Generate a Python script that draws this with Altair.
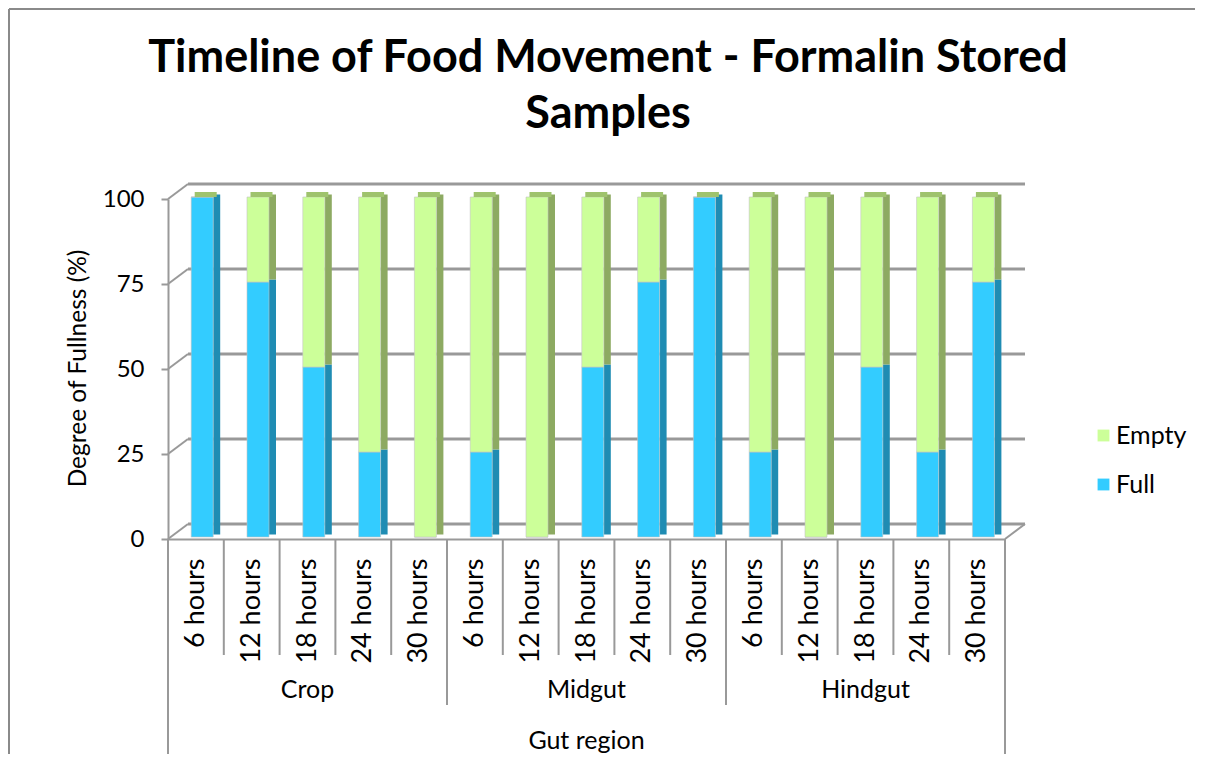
import altair as alt
import pandas as pd

# ---------------- data ----------------
groups = ["Crop", "Midgut", "Hindgut"]
hours = ["6 hours", "12 hours", "18 hours", "24 hours", "30 hours"]
full_vals = [100, 75, 50, 25, 0, 25, 0, 50, 75, 100, 25, 0, 50, 25, 75]
empty_vals = [0, 25, 50, 75, 100, 75, 100, 50, 25, 0, 75, 100, 50, 75, 25]
y_ticks = [0, 25, 50, 75, 100]
series_names = ["Empty", "Full"]
title_lines = ["Timeline of Food Movement - Formalin Stored", "Samples"]
y_title = "Degree of Fullness (%)"
x_title = "Gut region"

# ---------------- styles ----------------
front_colors = ["#CCFF99", "#33CCFF"]
side_colors = ["#8DAA62", "#1F8CB3"]
top_color = "#9FC36D"
grid_color = "#999999"
FONT = "Lato"

W, H = 837, 340
NB = len(groups) * len(hours)
BW = W / NB
DX, DY = 20, -15
FX = 6.3  # front face offset from band centre
FW = 22   # front face width
SW = 7    # side face width

keys = [f"{g}|{h}" for g in groups for h in hours]
rows = []
for i, k in enumerate(keys):
    rows.append(dict(key=k, series="Full", y0=0, y1=full_vals[i]))
    rows.append(dict(key=k, series="Empty", y0=full_vals[i], y1=full_vals[i] + empty_vals[i]))
bars = pd.DataFrame(rows)
tops = pd.DataFrame({"key": keys, "top": [f + e for f, e in zip(full_vals, empty_vals)]})
ticks_df = pd.DataFrame({"v": y_ticks})
zero_df = pd.DataFrame({"v": [0]})
keys_df = pd.DataFrame({"key": keys})
last_df = pd.DataFrame({"key": [keys[-1]]})
first_df = pd.DataFrame({"key": [keys[0]]})
group_first_df = pd.DataFrame({"key": [f"{g}|{hours[0]}" for g in groups[1:]]})
group_mid_df = pd.DataFrame({"key": [f"{g}|{hours[len(hours)//2]}" for g in groups],
                             "label": groups})

xaxis = alt.Axis(
    labelExpr="split(datum.value, '|')[1]", labelAngle=270, labelAlign="right",
    labelBaseline="middle", labelFontSize=27, labelFont=FONT, labelColor="black",
    labelPadding=19, ticks=False, domainColor=grid_color, domainWidth=2,
    grid=False, title=None, labelOverlap=False,
)
yaxis = alt.Axis(
    values=y_ticks, grid=False, domainColor=grid_color, domainWidth=2,
    tickColor=grid_color, tickWidth=2, tickSize=7, labelFontSize=24,
    labelFont=FONT, labelColor="black", labelPadding=17, title=y_title,
    titleFontSize=24.5, titleFont=FONT, titleFontWeight="normal", titleColor="black",
    titleX=-90, titleY=H / 2 - 1, titleAlign="center", titleBaseline="middle",
)
X = alt.X("key:N", scale=alt.Scale(domain=keys, paddingInner=0, paddingOuter=0), axis=xaxis)
YS = alt.Scale(domain=[0, 100], nice=False)


def Yq(field):
    return alt.Y(field, scale=YS, axis=yaxis)


# border of chart area
border_left = alt.Chart(zero_df).mark_rule(color="#8a8a8a", strokeWidth=2).encode(
    x=alt.value(-159), y=alt.value(-190), y2=alt.value(H + 300))
border_top = alt.Chart(zero_df).mark_rule(color="#8a8a8a", strokeWidth=2).encode(
    x=alt.value(-159), x2=alt.value(W + 300), y=alt.value(-190))

# back wall gridlines
back_grid = alt.Chart(ticks_df).mark_rule(color=grid_color, strokeWidth=3, yOffset=DY).encode(
    y=Yq("v:Q"), x=alt.value(DX), x2=alt.value(W + DX))
left_diag = alt.Chart(ticks_df).mark_rule(color=grid_color, strokeWidth=2, y2Offset=DY).encode(
    y=Yq("v:Q"), y2="v:Q", x=alt.value(0), x2=alt.value(DX))
right_diag = alt.Chart(zero_df).mark_rule(color=grid_color, strokeWidth=2, y2Offset=DY).encode(
    y=Yq("v:Q"), y2="v:Q", x=alt.value(W), x2=alt.value(W + DX))

# bars (pseudo-3D)
side = alt.Chart(bars).mark_bar(width=SW, xOffset=FX + FW / 2 + SW / 2, yOffset=-4.5,
                                y2Offset=-4.5).encode(
    x=X, y=Yq("y1:Q"), y2="y0:Q",
    color=alt.Color("series:N", scale=alt.Scale(domain=series_names, range=side_colors),
                    legend=None))
front = alt.Chart(bars).mark_bar(width=FW, xOffset=FX, yOffset=-2, y2Offset=-2,
                                 stroke="#c4c4c4", strokeWidth=0.6).encode(
    x=X, y=Yq("y1:Q"), y2="y0:Q",
    color=alt.Color("series:N", scale=alt.Scale(domain=series_names, range=front_colors),
                    legend=alt.Legend(title=None, orient="none", legendX=923, legendY=224,
                                      symbolType="square", symbolSize=140,
                                      symbolStrokeWidth=0, labelFontSize=25,
                                      labelFont=FONT, labelColor="black",
                                      rowPadding=23, labelOffset=0, padding=0)))
top = alt.Chart(tops).mark_bar(width=FW, xOffset=FX + SW / 2, yOffset=-7, y2Offset=-2,
                               color=top_color).encode(
    x=X, y=Yq("top:Q"), y2="top:Q")

# category separators
sep_short = alt.Chart(keys_df).mark_rule(color=grid_color, strokeWidth=2, xOffset=-BW / 2).encode(
    x=X, y=alt.value(H), y2=alt.value(H + 116))
sep_short_last = alt.Chart(last_df).mark_rule(color=grid_color, strokeWidth=2, xOffset=BW / 2).encode(
    x=X, y=alt.value(H), y2=alt.value(H + 116))
sep_group = alt.Chart(group_first_df).mark_rule(color=grid_color, strokeWidth=2, xOffset=-BW / 2).encode(
    x=X, y=alt.value(H), y2=alt.value(H + 166))
sep_outer_first = alt.Chart(first_df).mark_rule(color=grid_color, strokeWidth=2, xOffset=-BW / 2).encode(
    x=X, y=alt.value(H), y2=alt.value(H + 220))
sep_outer_last = alt.Chart(last_df).mark_rule(color=grid_color, strokeWidth=2, xOffset=BW / 2).encode(
    x=X, y=alt.value(H), y2=alt.value(H + 220))

group_text = alt.Chart(group_mid_df).mark_text(fontSize=25, font=FONT, color="black",
                                               baseline="middle", align="center").encode(
    x=X, y=alt.value(H + 151), text="label:N")
xtitle_text = alt.Chart(zero_df).mark_text(fontSize=25, font=FONT, color="black",
                                           baseline="middle", align="center").encode(
    x=alt.value(W / 2), y=alt.value(H + 202), text=alt.value(x_title))
title_text = alt.Chart(zero_df).mark_text(fontSize=45, font=FONT, fontWeight="bold",
                                          color="black", baseline="alphabetic",
                                          align="center", lineHeight=56).encode(
    x=alt.value(440), y=alt.value(-127), text=alt.value(title_lines))

chart = alt.layer(
    border_left, border_top, back_grid, left_diag, right_diag,
    side, front, top,
    sep_short, sep_short_last, sep_group, sep_outer_first, sep_outer_last,
    group_text, xtitle_text, title_text,
).resolve_scale(color="independent").properties(
    width=W, height=H,
    autosize=alt.AutoSizeParams(type="none"),
    padding={"left": 160, "top": 191, "right": 190, "bottom": 215},
).configure_view(stroke=None)

chart.save("out.html", embed_options={"renderer": "svg", "actions": False})
